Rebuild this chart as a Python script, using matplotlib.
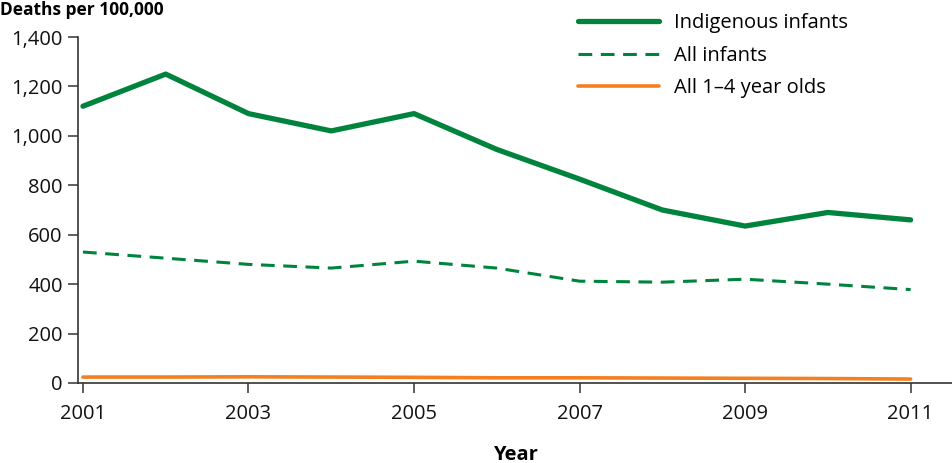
import numpy as np
import matplotlib.pyplot as plt

plt.rcParams['font.family'] = ['Open Sans', 'DejaVu Sans']

years = [2001, 2002, 2003, 2004, 2005, 2006, 2007, 2008, 2009, 2010, 2011]
indigenous_infants = [1120, 1250, 1090, 1020, 1090, 945, 825, 700, 635, 690, 660]
all_infants = [530, 505, 480, 465, 493, 465, 412, 408, 420, 400, 378]
all_1_4 = [24, 24, 25, 24, 23, 21, 21, 20, 19, 18, 16]

green = '#00843d'
orange = '#f47f20'
fs = 14.5

fig = plt.figure(figsize=(9.52, 4.63), dpi=100)
ax = fig.add_axes([78/952, 80/463, 1 - 78/952, 346/463])

ax.plot(years, indigenous_infants, color=green, lw=3.8, solid_capstyle='round',
        solid_joinstyle='round', label='Indigenous infants')
ax.plot(years, all_infants, color=green, lw=2.2, ls=(0, (4.5, 2.8)), label='All infants')
ax.plot(years, all_1_4, color=orange, lw=2.6, solid_capstyle='round', label='All 1\u20134 year olds')

ax.set_xlim(2000.94, 2011.5)
ax.set_ylim(0, 1400)
ax.set_xticks([2001, 2003, 2005, 2007, 2009, 2011])
ax.set_yticks(np.arange(0, 1401, 200))
ax.set_yticklabels([f'{v:,}' for v in range(0, 1401, 200)])

for s in ['top', 'right']:
    ax.spines[s].set_visible(False)
ax.spines['left'].set_bounds(0, 1400)
for s in ['left', 'bottom']:
    ax.spines[s].set_color('#333333')
    ax.spines[s].set_linewidth(1.2)
ax.tick_params(axis='both', direction='out', length=7, width=1.1, color='#333333',
               labelsize=fs, labelcolor='#111111')
ax.tick_params(axis='x', pad=8)
ax.tick_params(axis='y', pad=4)

ax.set_xlabel('Year', fontsize=fs, fontweight='bold', labelpad=15)
fig.text(0.0, 1 - 1/463, 'Deaths per 100,000', fontsize=fs - 2, fontweight='bold',
         ha='left', va='top')

leg = fig.legend(loc='upper left', bbox_to_anchor=(560/952, 1 + 5/463), frameon=False,
                 fontsize=fs, handlelength=4.0, handletextpad=0.75, labelspacing=0.62)

fig.savefig('out.png', dpi=100)
